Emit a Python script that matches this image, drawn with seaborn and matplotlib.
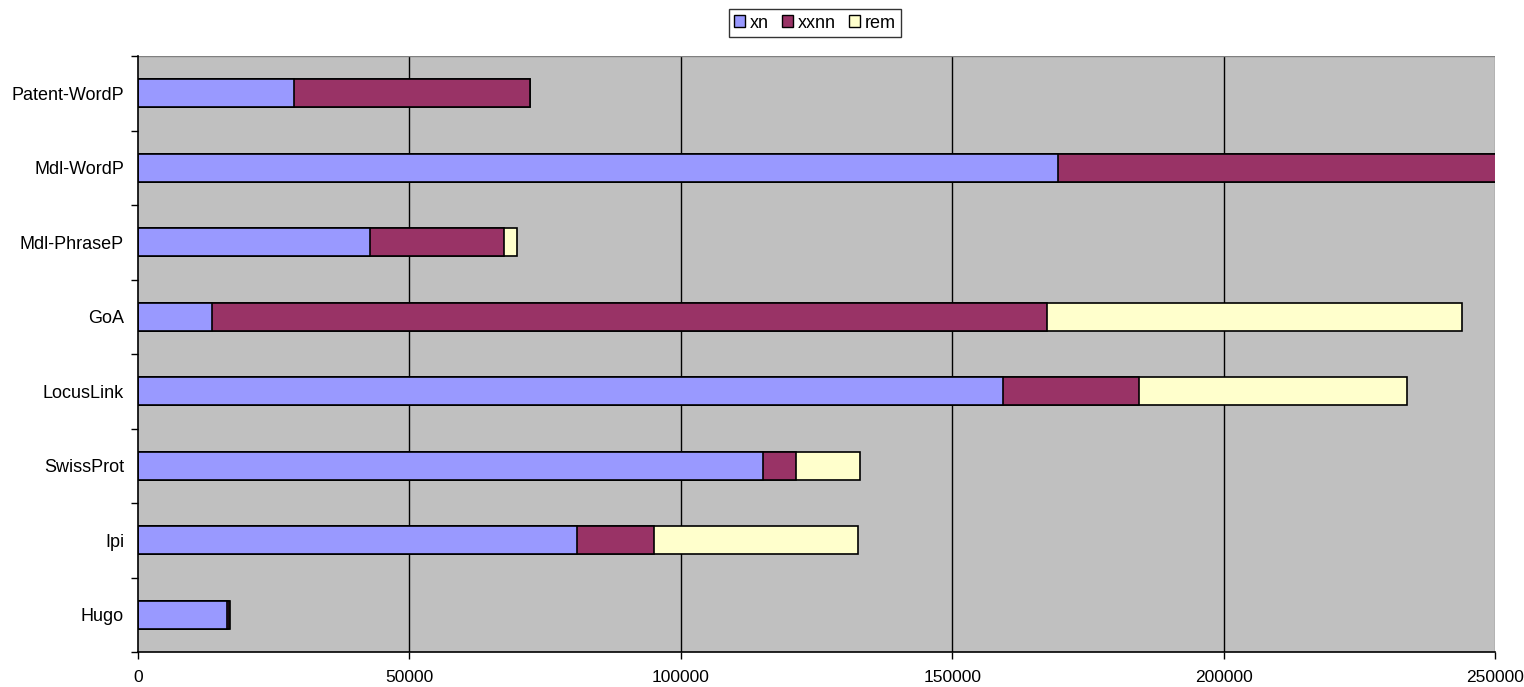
import matplotlib
matplotlib.use("Agg")
import matplotlib.pyplot as plt
import seaborn as sns
import pandas as pd
import numpy as np
from matplotlib.patches import Patch

categories = ["Patent-WordP", "Mdl-WordP", "Mdl-PhraseP", "GoA", "LocusLink", "SwissProt", "Ipi", "Hugo"]
xn = [28700, 169400, 42700, 13600, 159400, 115100, 80800, 16400]
xxnn = [43500, 81000, 24700, 153900, 25000, 6200, 14200, 300]
rem = [0, 0, 2400, 76400, 49300, 11800, 37600, 200]
series = ["xn", "xxnn", "rem"]
colors = ["#9999FF", "#993366", "#FFFFCC"]
xticks = [0, 50000, 100000, 150000, 200000, 250000]

sns.set_theme(style="white")
plt.rcParams["font.family"] = ["Liberation Sans", "DejaVu Sans"]
plt.rcParams["text.color"] = "black"
plt.rcParams["xtick.color"] = "black"
plt.rcParams["ytick.color"] = "black"

df = pd.DataFrame({"cat": categories, "xn": xn, "xxnn": xxnn, "rem": rem})
df["c1"] = df["xn"]
df["c2"] = df["xn"] + df["xxnn"]
df["c3"] = df["c2"] + df["rem"]

fig = plt.figure(figsize=(15.24, 6.87), dpi=100)
ax = fig.add_axes([138/1524, 1 - 652/687, (1495-138)/1524, (652-56)/687])
ax.set_facecolor("#C0C0C0")

for col, c in zip(["c3", "c2", "c1"], colors[::-1]):
    sns.barplot(data=df, x=col, y="cat", order=categories, color=c, orient="h",
                width=0.38, edgecolor="black", linewidth=1.2, ax=ax, saturation=1)

ax.set_xlim(0, 250000)
ax.set_ylim(len(categories) - 0.5, -0.5)
ax.set_xticks(xticks)
ax.set_xticklabels([str(v) for v in xticks], fontsize=12.5)
for v in xticks[1:-1]:
    ax.axvline(v, color="black", linewidth=1, zorder=0.5)
ax.set_axisbelow(True)
ax.set_yticks(range(len(categories)))
ax.set_yticklabels(categories, fontsize=13)
ax.tick_params(axis="y", which="major", left=False, length=0, pad=10)
ax.set_yticks(np.arange(-0.5, len(categories), 1), minor=True)
ax.tick_params(axis="y", which="minor", left=True, length=5, direction="out", color="black", width=1)
ax.tick_params(axis="x", bottom=True, length=5, direction="out", color="black", width=1, pad=8)
ax.set_xlabel("")
ax.set_ylabel("")
for s in ["top", "right"]:
    ax.spines[s].set_visible(False)
for s in ["left", "bottom"]:
    ax.spines[s].set_color("black")
    ax.spines[s].set_linewidth(1.2)
ax.axvline(250000, color="#808080", linewidth=1, zorder=0.5)
ax.axhline(-0.5, color="#808080", linewidth=1, zorder=0.5)

handles = [Patch(facecolor=c, edgecolor="black", label=s) for s, c in zip(series, colors)]
leg = fig.legend(handles=handles, loc="center", bbox_to_anchor=(815/1524, 1 - 23/687), ncol=3,
                 frameon=True, fancybox=False, edgecolor="black", fontsize=13,
                 handlelength=0.6, handleheight=0.6, handletextpad=0.3, columnspacing=0.7,
                 borderpad=0.3)
leg.get_frame().set_linewidth(1)

fig.savefig("out.png", dpi=100, facecolor="white")
